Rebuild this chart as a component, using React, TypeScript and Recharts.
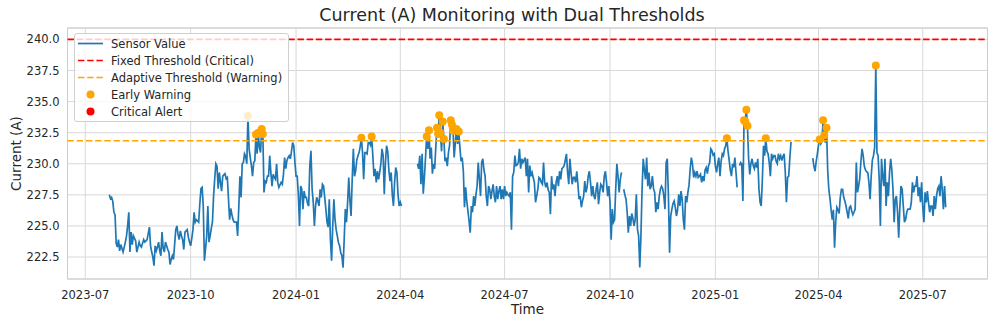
import React from 'react';
import {
  ComposedChart,
  Line,
  Scatter,
  XAxis,
  YAxis,
  CartesianGrid,
  ReferenceLine,
  ReferenceArea,
} from 'recharts';

const DAY = 86400000;
// first reading: 2023-07-22, one reading per day
const START = Date.UTC(2023, 6, 22);
const FIXED_THRESHOLD = 240;
const ADAPTIVE_THRESHOLD = 231.85;

// daily sensor current (A); null = no reading
const values: (number | null)[] = [
  227.5, 227.2, 227.3, 227.0, 226.1, 225.9, 223.6, 223.3, 223.9, 223.0,
  223.5, 223.2, 222.9, 223.3, 223.7, 224.2, 225.0, 226.1, 222.9, 224.5,
  223.5, 224.2, 224.0, 223.8, 222.9, 223.3, 223.7, 223.4, 223.3, 223.6,
  223.9, 223.7, 223.8, 223.9, 224.4, 224.9, 223.4, 222.9, 222.5, 221.8,
  223.4, 223.0, 223.3, 223.7, 223.0, 222.6, 224.5, 223.2, 222.9, 223.7,
  223.4, 223.1, 222.9, 221.9, 222.3, 222.6, 222.3, 223.5, 224.7, 225.0,
  224.3, 223.9, 224.6, 224.2, 223.9, 223.1, 224.5, 224.6, 224.7, 224.1,
  223.7, 223.4, 224.0, 224.7, 226.1, 225.3, 225.5, 225.4, 225.3, 226.8,
  228.0, 228.1, 226.6, 222.2, 223.2, 224.2, 226.6, 223.7, 224.2, 224.8,
  225.3, 227.4, 228.8, 230.0, 229.8, 228.0, 229.3, 228.5, 227.8, 229.0,
  229.1, 229.2, 228.8, 228.9, 227.2, 225.5, 226.4, 225.9, 225.5, 225.3,
  225.3, 225.3, 224.2, 226.5, 229.0, 227.3, 230.0, 230.1, 230.8, 230.6,
  230.0, 233.85, 231.2, 230.5, 229.85, 229.0, 230.1, 230.25, 232.35, 230.8,
  232.5, 231.3, 230.9, 232.8, 232.4, 227.7, 228.6, 228.5, 229.0, 229.0,
  230.65, 229.3, 228.2, 229.15, 228.9, 228.75, 230.0, 228.5, 228.1, 228.3,
  228.5, 228.35, 229.15, 230.5, 229.6, 230.25, 230.5, 230.65, 230.4, 231.0,
  231.7, 231.45, 230.1, 229.0, 229.0, 227.5, 225.0, 228.2, 227.95, 226.35,
  227.8, 227.3, 227.3, 226.8, 226.6, 229.85, 231.05, 227.95, 226.9, 225.0,
  226.6, 227.3, 227.0, 226.6, 227.95, 227.3, 228.35, 228.2, 227.3, 226.35,
  225.3, 224.9, 227.15, 223.9, 222.2, 225.0, 227.15, 225.5, 224.7, 224.2,
  223.65, 223.4, 222.85, 222.6, 221.65, 223.9, 226.35, 225.3, 226.9, 228.9,
  227.0, 225.8, 228.75, 231.2, 229.0, 229.4, 230.3, 230.65, 230.9, 231.4,
  232.1, 230.9, 228.75, 230.9, 230.9, 230.8, 231.7, 231.7, 231.5, 232.2,
  230.65, 229.0, 229.6, 228.5, 229.4, 228.75, 229.3, 230.0, 231.2, 230.65,
  227.55, 230.1, 231.45, 231.0, 229.5, 228.6, 229.3, 227.5, 226.6, 228.5,
  229.7, 229.3, 227.5, 226.6, 226.9, 226.6, null, null, null, null,
  null, null, null, null, null, null, null, null, null, 230.0,
  229.6, 230.65, 228.35, 230.8, 227.6, 228.9, 230.5, 232.2, 231.2, 232.7,
  230.4, 231.3, 229.2, 230.0, 229.6, 231.4, 232.9, 232.4, 233.9, 232.5,
  231.0, 233.4, 232.0, 230.2, 230.5, 229.8, 230.9, 231.5, 233.5, 233.15,
  232.65, 230.5, 231.7, 232.8, 231.6, 232.6, 231.3, 230.2, 230.5, 229.4,
  226.5, 228.1, 227.0, 226.2, 225.4, 224.45, 226.6, 226.1, 227.4, 226.6,
  227.5, 228.2, 230.1, 228.75, 227.4, 230.1, 230.4, 229.5, 229.0, 227.4,
  226.6, 228.2, 227.95, 227.15, 227.8, 228.35, 227.4, 226.9, 228.2, 227.15,
  227.8, 228.2, 227.15, 227.95, 227.15, 228.2, 227.4, 227.7, 227.5, 227.4,
  227.7, 224.7, 229.0, 229.3, 230.65, 229.85, 229.9, 230.1, 231.2, 229.6,
  230.4, 230.1, 230.3, 230.5, 229.0, 230.4, 227.7, 229.85, 229.0, 229.3,
  228.9, 228.5, 226.9, 227.4, 227.95, 228.9, 228.8, 228.5, 228.35, 230.1,
  228.5, 228.1, 228.5, 227.9, 227.7, 225.95, 229.0, 227.95, 228.35, 227.4,
  228.5, 229.0, 228.2, 229.4, 228.75, 229.6, 229.7, 229.85, 230.3, 230.8,
  229.3, 228.35, 230.4, 229.3, 228.35, 228.9, 228.9, 228.5, 229.4, 228.35,
  227.15, 227.4, 226.5, 227.0, 227.4, 228.6, 227.7, 228.1, 229.0, 229.4,
  228.5, 227.4, 228.2, 227.4, 227.15, 228.0, 228.5, 226.75, 227.7, 228.35,
  228.2, 227.7, 229.0, 229.4, 228.5, 227.4, 228.2, 226.9, 223.9, 226.35,
  225.3, 225.5, 228.0, 230.0, 229.0, 227.7, 228.75, 229.3, null, 227.95,
  227.5, 227.15, 226.1, 224.45, 225.8, 225.0, 226.0, 225.6, 225.0, 225.5,
  227.55, 224.7, 224.2, 221.65, 224.2, 227.95, 230.4, 229.5, 228.75, 230.5,
  228.2, 229.3, 227.95, 228.2, 229.0, 228.0, 227.7, 226.1, 226.9, 226.35,
  227.4, 227.95, 228.2, 228.0, 227.4, 226.35, 230.1, 230.4, 227.4, 222.85,
  225.8, 226.35, 226.8, 227.0, 226.5, 225.8, 226.3, 227.55, 226.6, 227.8,
  227.15, 225.5, 224.7, 227.4, 226.9, 227.7, 228.3, 229.6, 230.5, 230.0,
  228.9, 229.3, 229.0, 229.4, 228.9, 229.0, 229.15, 228.5, 229.0, 228.6,
  229.5, 229.7, 229.2, 229.85, 230.1, 231.2, 231.05, 230.7, 230.8, 229.8,
  229.3, 230.0, 230.5, 229.0, 230.2, 230.8, 230.65, 231.2, 231.45, 232.05,
  231.05, 230.3, 229.5, 229.0, 230.0, 229.7, 230.5, 229.3, 228.1, null,
  229.85, 230.1, 230.0, 227.0, 233.5, 233.4, 234.35, 233.05, 230.4, 229.15,
  230.0, 230.4, 229.85, 229.6, 230.1, 229.7, 230.4, 228.0, 226.9, 226.6,
  228.75, 231.45, 230.65, 232.05, 231.0, 230.8, 230.1, 229.0, 230.8, 230.4,
  230.65, 230.65, 230.2, 230.0, 230.8, 230.4, 230.65, 230.25, 230.6, 230.8,
  229.3, 226.9, 228.9, 229.0, 230.5, 231.75, null, null, null, null,
  null, null, null, null, null, null, null, null, null, null,
  null, null, null, null, 230.45, 229.8, 229.4, 230.2, 230.8, 231.5,
  231.95, 231.6, 231.8, 233.5, 232.3, 231.7, 232.9, 229.5, 227.95, 227.2,
  226.3, 225.5, 226.3, 223.25, 225.3, 226.5, 226.3, 226.0, 227.3, 227.95,
  227.95, 227.3, 227.0, 226.6, 226.1, 225.6, 226.5, 226.6, 226.2, 225.9,
  226.1, 226.35, 230.1, 227.7, 228.2, 228.8, 230.2, 231.2, 230.65, 229.8,
  229.5, 229.35, 229.3, 228.5, 227.15, 229.0, 230.3, 230.65, 231.3, 237.9,
  230.9, 230.65, 228.75, 225.0, 230.4, 229.0, 228.2, 230.4, 226.6, 228.5,
  227.4, 229.3, 230.4, 229.5, 227.95, 225.3, 227.15, 227.4, 226.1, 224.05,
  226.5, 228.2, 227.95, 226.6, 225.3, 225.5, 226.1, 226.35, 226.35, 226.35,
  226.9, 228.5, 227.7, 228.2, 228.2, 229.0, 227.4, 228.1, 226.9, 228.5,
  226.5, 225.3, 227.7, 226.9, 227.8, 226.9, 226.1, 226.6, 226.6, 225.8,
  227.4, 226.35, 227.4, 228.0, 228.2, 227.4, 229.0, 227.95, 226.35, 228.2,
  226.5,
];

const monthTicks = ['2023-07', '2023-10', '2024-01', '2024-04', '2024-07', '2024-10', '2025-01', '2025-04', '2025-07'];
const yTicks = [222.5, 225, 227.5, 230, 232.5, 235, 237.5, 240];

const legendItems = [
  { label: 'Sensor Value', kind: 'line', color: '#1f77b4' },
  { label: 'Fixed Threshold (Critical)', kind: 'dash', color: '#ff0000' },
  { label: 'Adaptive Threshold (Warning)', kind: 'dash', color: '#ffa500' },
  { label: 'Early Warning', kind: 'dot', color: '#ffa500' },
  { label: 'Critical Alert', kind: 'dot', color: '#ff0000' },
];

const FONT = '"DejaVu Sans", sans-serif';
const TEXT = '#262626';

const monthTime = (ym: string) => {
  const [y, m] = ym.split('-').map(Number);
  return Date.UTC(y, m - 1, 1);
};

const data = values.map((v, i) => ({ t: START + i * DAY, value: v }));
const readings = data.filter((d) => d.value != null) as { t: number; value: number }[];
const warnings = readings.filter((d) => d.value > ADAPTIVE_THRESHOLD && d.value < FIXED_THRESHOLD);
const criticals = readings.filter((d) => d.value >= FIXED_THRESHOLD);

// matplotlib-style 5% margins
const tMin = data[0].t;
const tMax = data[data.length - 1].t;
const xPad = (tMax - tMin) * 0.05;
const xDomain: [number, number] = [tMin - xPad, tMax + xPad];
const vMin = Math.min(...readings.map((d) => d.value));
const vMax = Math.max(FIXED_THRESHOLD, ...readings.map((d) => d.value));
const yPad = (vMax - vMin) * 0.05;
const yDomain: [number, number] = [vMin - yPad, vMax + yPad];

const xTicks = monthTicks.map(monthTime);
const tickLabel = (t: number) => monthTicks[xTicks.indexOf(t)] ?? '';

function YLabel({ viewBox }: any) {
  const cy = viewBox.y + viewBox.height / 2;
  return (
    <text x={15.5} y={cy} transform={`rotate(-90 15.5 ${cy})`} textAnchor="middle"
      dominantBaseline="central" fontSize={13.5} fill={TEXT} fontFamily={FONT}>
      Current (A)
    </text>
  );
}

function XLabel({ viewBox }: any) {
  return (
    <text x={viewBox.x + viewBox.width / 2} y={309} textAnchor="middle"
      dominantBaseline="central" fontSize={13.5} fill={TEXT} fontFamily={FONT}>
      Time
    </text>
  );
}

function Dot({ cx, cy, fill }: any) {
  if (cx == null || cy == null) return null;
  return <circle cx={cx} cy={cy} r={4} fill={fill} />;
}

function LegendBox() {
  return (
    <div
      style={{
        position: 'absolute', left: 74, top: 33, width: 215, height: 89,
        boxSizing: 'border-box', background: 'rgba(255,255,255,0.8)',
        border: '1px solid #d0d0d0', borderRadius: 3, paddingTop: 1,
        fontFamily: FONT, fontSize: 11.5, color: TEXT,
      }}
    >
      {legendItems.map((it) => (
        <div key={it.label} style={{ height: 17, display: 'flex', alignItems: 'center' }}>
          <svg width={33} height={17} style={{ marginLeft: 3, flex: 'none' }}>
            {it.kind === 'dot' ? (
              <circle cx={12.5} cy={8.5} r={4} fill={it.color} />
            ) : (
              <line x1={0} x2={25} y1={8.5} y2={8.5} stroke={it.color} strokeWidth={1.7}
                strokeDasharray={it.kind === 'dash' ? '6.4 2.8' : undefined} />
            )}
          </svg>
          <span style={{ whiteSpace: 'nowrap' }}>{it.label}</span>
        </div>
      ))}
    </div>
  );
}

export default function App() {
  return (
    <div style={{ position: 'relative', width: 996, height: 325, background: '#fff' }}>
      <style>{'body{margin:0}'}</style>
      <div
        style={{
          position: 'absolute', left: 0, width: 1024, top: 4, lineHeight: '22px',
          textAlign: 'center', fontFamily: FONT, fontSize: 17.5, color: TEXT,
        }}
      >
        Current (A) Monitoring with Dual Thresholds
      </div>
      <ComposedChart width={996} height={325} data={data}
        margin={{ top: 28, right: 8.5, bottom: 0, left: 0 }}>
        <CartesianGrid stroke="#d8d8d8" strokeWidth={1} />
        <XAxis dataKey="t" type="number" domain={xDomain} ticks={xTicks} tickFormatter={tickLabel}
          allowDataOverflow height={46} tickSize={0} tickMargin={12} axisLine={false} tickLine={false}
          tick={{ fontSize: 11.5, fill: TEXT, fontFamily: FONT }} interval={0}
          label={<XLabel />} />
        <YAxis type="number" domain={yDomain} ticks={yTicks} tickFormatter={(v: number) => v.toFixed(1)}
          allowDataOverflow width={67.5} tickSize={0} tickMargin={8} axisLine={false} tickLine={false}
          tick={{ fontSize: 11.5, fill: TEXT, fontFamily: FONT }} interval={0}
          label={<YLabel />} />
        <ReferenceArea x1={xDomain[0]} x2={xDomain[1]} y1={yDomain[0]} y2={yDomain[1]}
          fill="none" stroke="#cccccc" strokeWidth={1} ifOverflow="visible" />
        <Line dataKey="value" type="linear" stroke="#1f77b4" strokeWidth={1.7} dot={false}
          activeDot={false} connectNulls={false} isAnimationActive={false} />
        <ReferenceLine y={FIXED_THRESHOLD} stroke="#ff0000" strokeWidth={1.7} strokeDasharray="6.4 2.8" />
        <ReferenceLine y={ADAPTIVE_THRESHOLD} stroke="#ffa500" strokeWidth={1.7} strokeDasharray="6.4 2.8" />
        <Scatter data={warnings} dataKey="value" fill="#ffa500" shape={<Dot />} isAnimationActive={false} />
        {criticals.length > 0 && (
          <Scatter data={criticals} dataKey="value" fill="#ff0000" shape={<Dot />} isAnimationActive={false} />
        )}
      </ComposedChart>
      <LegendBox />
    </div>
  );
}
